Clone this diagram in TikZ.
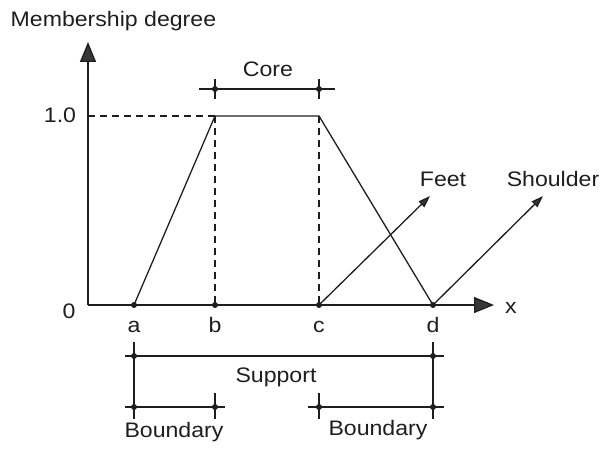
\documentclass[tikz,border=0pt]{standalone}
\usepackage{fontspec}
\setmainfont{Liberation Sans}
\usepackage{tikz}
\usetikzlibrary{arrows.meta, positioning, calc}
\definecolor{inkgray}{RGB}{30,30,30}
\definecolor{tipgray}{RGB}{55,55,55}

\begin{document}
\begin{tikzpicture}[x=1pt, y=-1pt, line width=1.3pt, draw=inkgray,
	lbl/.style={font=\fontsize{21}{24}\selectfont, xscale=1.1, text=inkgray, inner sep=0pt, anchor=base},
	dot/.style={circle, fill=inkgray, inner sep=0pt, minimum size=6pt},
	axisarrow/.style={-{Triangle[length=20pt, width=16pt, fill=tipgray]}},
	labelarrow/.style={-{Triangle[length=12pt, width=8pt, fill=tipgray]}},
	guide/.style={dash pattern=on 7pt off 5pt}]
	\useasboundingbox (0,0) rectangle (608,449);
	% ejes
	\coordinate (O) at (88,305);
	\coordinate (ytop) at (88,42);
	\coordinate (xend) at (494,305);
	\draw[axisarrow] (O) -- (ytop);
	\draw[axisarrow] (O) -- (xend);
	\foreach \n/\x in {a/134,b/215,c/319,d/433} \coordinate (\n) at (\x,305);
	\coordinate (one) at (88,116);
	\coordinate (btop) at (215,116);
	\coordinate (ctop) at (319,116);
	% guias punteadas
	\draw[guide] (one) -- (btop);
	\draw[guide] (btop) -- (b);
	\draw[guide] (ctop) -- (c);
	% trapecio
	\draw (a) -- (btop) -- (ctop) -- (d);
	\foreach \n in {a,b,c,d} \node[dot] at (\n) {};
	% flechas de etiquetas
	\coordinate (feetend) at (430,196);
	\coordinate (shoulderend) at (543,196);
	\draw[labelarrow] (c) -- (feetend);
	\draw[labelarrow] (d) -- (shoulderend);
	% core
	\coordinate (coreL) at (215,89);
	\coordinate (coreR) at (319,89);
	\draw ([xshift=-16pt]coreL) -- ([xshift=16pt]coreR);
	\foreach \p in {coreL,coreR} {\draw ([yshift=-10pt]\p) -- ([yshift=10pt]\p); \node[dot] at (\p) {};}
	% support y boundary
	\coordinate (supL) at (134,356);
	\coordinate (supR) at (433,356);
	\coordinate (bndA) at (134,407);
	\coordinate (bndB) at (215,407);
	\coordinate (bndC) at (319,407);
	\coordinate (bndD) at (433,407);
	\draw ([xshift=-9pt]supL) -- ([xshift=11pt]supR);
	\draw ([xshift=-9pt]bndA) -- ([xshift=10pt]bndB);
	\draw ([xshift=-11pt]bndC) -- ([xshift=11pt]bndD);
	\draw ([yshift=14pt]supL) -- ([yshift=-12pt]bndA);
	\draw ([yshift=14pt]supR) -- ([yshift=-12pt]bndD);
	\foreach \p in {bndB,bndC} \draw ([yshift=14pt]\p) -- ([yshift=-12pt]\p);
	\foreach \p in {supL,supR,bndA,bndB,bndC,bndD} \node[dot] at (\p) {};
	% textos
	\node[lbl, anchor=base west] (mdeg) at (10,27) {Membership degree};
	\node[lbl] (corelbl) at (268,77) {Core};
	\node[lbl] (onelbl) at (60,123) {1.0};
	\node[lbl] (zerolbl) at (69,318) {0};
	\node[lbl] (xlbl) at (511,313) {x};
	\foreach \n/\x in {a/134,b/215,c/319,d/433} \node[lbl] (\n lbl) at (\x,332) {\n};
	\node[lbl] (feetlbl) at (443,187) {Feet};
	\node[lbl] (shoulderlbl) at (553,187) {Shoulder};
	\node[lbl] (suplbl) at (276,382) {Support};
	\node[lbl] (bndlbl1) at (174,437) {Boundary};
	\node[lbl] (bndlbl2) at (378,435) {Boundary};
\end{tikzpicture}
\end{document}
